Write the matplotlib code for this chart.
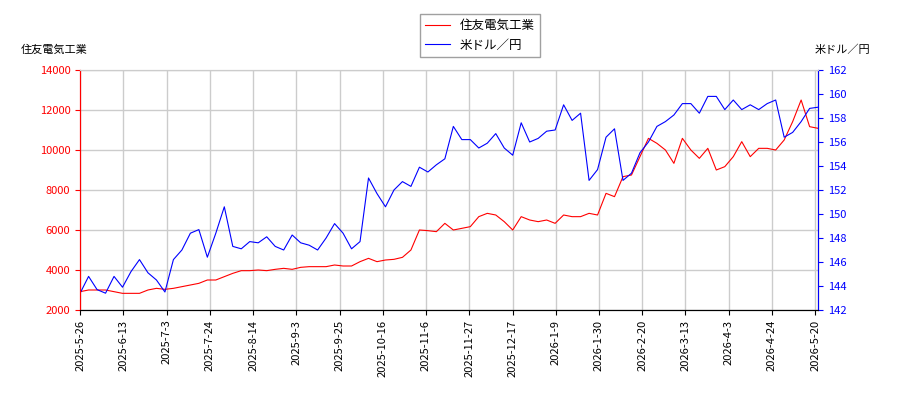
import matplotlib
matplotlib.use("Agg")
import matplotlib.pyplot as plt
import numpy as np

plt.rcParams['font.family'] = ['Noto Sans CJK JP', 'DejaVu Sans']

tick_labels = ["2025-5-26","2025-6-13","2025-7-3","2025-7-24","2025-8-14","2025-9-3","2025-9-25",
               "2025-10-16","2025-11-6","2025-11-27","2025-12-17","2026-1-9","2026-1-30","2026-2-20",
               "2026-3-13","2026-4-3","2026-4-24","2026-5-20"]

stock = [2917,3000,3000,3000,2917,2833,2833,2833,3000,3083,3033,3083,3167,3250,3333,3500,3500,3667,
         3833,3967,3967,4000,3967,4033,4083,4033,4133,4167,4167,4167,4250,4200,4200,4417,4583,4417,
         4500,4533,4633,5000,6000,5967,5917,6333,6000,6083,6167,6667,6833,6750,6417,6000,6667,6500,
         6417,6500,6333,6750,6667,6667,6833,6750,7833,7667,8667,8750,9667,10583,10333,10000,9333,10583,
         10000,9583,10083,9000,9167,9667,10417,9667,10083,10083,10000,10500,11417,12500,11167,11083]

usd = [143.4,144.8,143.7,143.4,144.8,143.9,145.2,146.2,145.1,144.5,143.5,146.2,147.0,148.4,148.7,146.4,
       148.4,150.6,147.3,147.1,147.7,147.6,148.1,147.3,147.0,148.25,147.6,147.4,147.0,148.0,149.2,148.4,
       147.1,147.7,153.0,151.7,150.6,152.0,152.7,152.3,153.9,153.5,154.1,154.6,157.3,156.2,156.2,155.5,
       155.9,156.7,155.5,154.9,157.6,156.0,156.3,156.9,157.0,159.1,157.8,158.4,152.8,153.7,156.4,157.1,
       152.8,153.4,155.1,156.0,157.3,157.7,158.25,159.2,159.2,158.4,159.8,159.8,158.7,159.5,158.7,159.1,
       158.7,159.2,159.5,156.4,156.8,157.7,158.8,158.9]

n_days = 257
x = np.linspace(0, n_days - 1, len(stock))

fig, ax = plt.subplots(figsize=(9, 4), dpi=100)
fig.subplots_adjust(left=0.089, right=0.909, top=0.825, bottom=0.225)
ax2 = ax.twinx()
l1, = ax.plot(x, stock, color='red', lw=0.8, label='住友電気工業')
l2, = ax2.plot(x, usd, color='blue', lw=0.8, label='米ドル／円')

ax.set_xlim(0, n_days - 1)
ax.set_ylim(2000, 14000)
ax2.set_ylim(142, 162)
ax.set_yticks(range(2000, 14001, 2000))
ax2.set_yticks(range(142, 163, 2))
ticks = [min(i * 15, n_days - 1) for i in range(len(tick_labels))]
ax.set_xticks(ticks)
ax.set_xticklabels(tick_labels, rotation=90, fontsize=8)
ax.tick_params(axis='y', colors='red', labelsize=8)
ax2.tick_params(axis='y', colors='blue', labelsize=8)
ax.spines['left'].set_color('red')
ax2.spines['left'].set_color('red')
ax2.spines['right'].set_color('blue')
for a in (ax, ax2):
    a.spines['top'].set_color('#cccccc')
ax.grid(True, color='#cccccc', lw=1)
ax.text(-0.08, 1.07, '住友電気工業', transform=ax.transAxes, fontsize=8, ha='left')
ax2.text(1.07, 1.07, '米ドル／円', transform=ax.transAxes, fontsize=8, ha='right')
fig.legend(handles=[l1, l2], loc='upper center', bbox_to_anchor=(0.533, 0.98), fontsize=9,
           fancybox=False, edgecolor='#888888')
fig.savefig('out.png')
